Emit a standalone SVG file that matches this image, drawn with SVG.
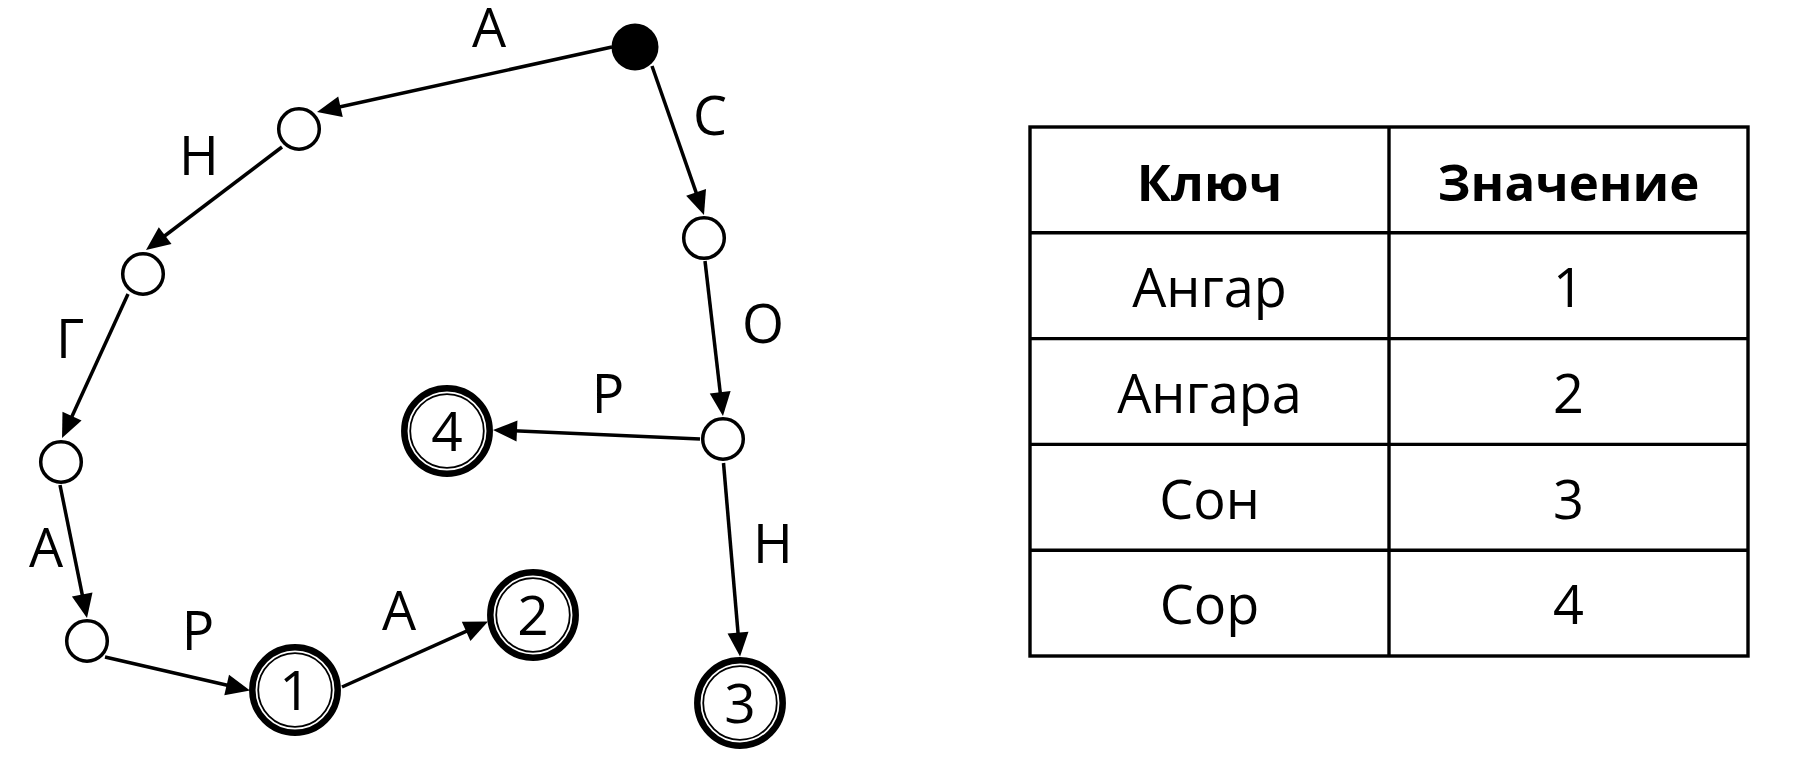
<svg xmlns="http://www.w3.org/2000/svg" width="1796" height="766" viewBox="0 0 1796 766">
<style>
  .edge { stroke:#000; stroke-width:3.5; fill:none; marker-end:url(#arr); }
  .st { fill:#fff; stroke:#000; stroke-width:3.5; }
  .fo { fill:#fff; stroke:#000; stroke-width:6.5; }
  .fi { fill:none; stroke:#000; stroke-width:1.8; }
  .lbl { font-family:"Open Sans","Noto Sans",sans-serif; font-size:54px; text-anchor:middle; fill:#000; }
  .num { font-family:"Open Sans","Noto Sans",sans-serif; font-size:55px; text-anchor:middle; fill:#000; }
  .cell { font-family:"Open Sans","Noto Sans",sans-serif; font-size:54px; text-anchor:middle; fill:#000; }
  .hdr { font-family:"Open Sans","Noto Sans",sans-serif; font-size:51px; font-weight:bold; text-anchor:middle; fill:#000; }
  .grid { stroke:#000; stroke-width:3.4; fill:none; }
</style>
<defs>
  <marker id="arr" markerUnits="userSpaceOnUse" markerWidth="24" markerHeight="21" refX="14" refY="10.5" orient="auto" overflow="visible">
    <path d="M0,0 L24,10.5 L0,21 z" fill="#000"/>
  </marker>
</defs>
<rect width="1796" height="766" fill="#fff"/>

<g id="connectors">
  <line class="edge" x1="612" y1="47" x2="326.8" y2="109.8"/>
  <line class="edge" x1="282" y1="147" x2="154.0" y2="244.0"/>
  <line class="edge" x1="128" y1="294" x2="66.2" y2="428.9"/>
  <line class="edge" x1="60" y1="485" x2="85.0" y2="608.2"/>
  <line class="edge" x1="105" y1="657" x2="240.3" y2="688.2"/>
  <line class="edge" x1="342" y1="687" x2="478.9" y2="625.6"/>
  <line class="edge" x1="652" y1="66" x2="700.7" y2="205.6"/>
  <line class="edge" x1="705" y1="261" x2="721.8" y2="406.1"/>
  <line class="edge" x1="700" y1="439" x2="503.0" y2="430.4"/>
  <line class="edge" x1="723.5" y1="463" x2="739.2" y2="646.5"/>
</g>

<g id="edge-labels">
  <text class="lbl" x="489" y="47">А</text>
  <text class="lbl" x="710" y="135">С</text>
  <text class="lbl" x="199" y="175">Н</text>
  <text class="lbl" x="70" y="358">Г</text>
  <text class="lbl" x="46" y="567">А</text>
  <text class="lbl" x="198" y="650">Р</text>
  <text class="lbl" x="399" y="630">А</text>
  <text class="lbl" x="608" y="413">Р</text>
  <text class="lbl" x="763" y="343">О</text>
  <text class="lbl" x="773" y="563">Н</text>
</g>

<g id="start"><circle cx="635" cy="47" r="23.5" fill="#000"/></g>
<g id="n1"><circle class="st" cx="299" cy="129" r="20.3"/></g>
<g id="n2"><circle class="st" cx="143" cy="274" r="20.3"/></g>
<g id="n3"><circle class="st" cx="61" cy="462" r="20.3"/></g>
<g id="n4"><circle class="st" cx="87" cy="641" r="20.3"/></g>
<g id="c"><circle class="st" cx="704" cy="238" r="20.3"/></g>
<g id="o"><circle class="st" cx="723" cy="439" r="20.3"/></g>

<g id="f1">
  <circle class="fo" cx="295" cy="690" r="42.7"/>
  <circle class="fi" cx="295" cy="690" r="36.8"/>
  <text class="num" x="295" y="710">1</text>
</g>
<g id="f2">
  <circle class="fo" cx="533" cy="615" r="42.7"/>
  <circle class="fi" cx="533" cy="615" r="36.8"/>
  <text class="num" x="533" y="635">2</text>
</g>
<g id="f3">
  <circle class="fo" cx="740" cy="703" r="42.7"/>
  <circle class="fi" cx="740" cy="703" r="36.8"/>
  <text class="num" x="740" y="723">3</text>
</g>
<g id="f4">
  <circle class="fo" cx="447" cy="431" r="42.7"/>
  <circle class="fi" cx="447" cy="431" r="36.8"/>
  <text class="num" x="447" y="451">4</text>
</g>

<g id="table">
  <rect class="grid" x="1030" y="127" width="718" height="529"/>
  <line class="grid" x1="1389" y1="127" x2="1389" y2="656"/>
  <line class="grid" x1="1030" y1="232.8" x2="1748" y2="232.8"/>
  <line class="grid" x1="1030" y1="338.6" x2="1748" y2="338.6"/>
  <line class="grid" x1="1030" y1="444.4" x2="1748" y2="444.4"/>
  <line class="grid" x1="1030" y1="550.2" x2="1748" y2="550.2"/>
  <text class="hdr" x="1209.5" y="201">Ключ</text>
  <text class="hdr" x="1568.5" y="201">Значение</text>
  <text class="cell" x="1209.5" y="307">Ангар</text>
  <text class="cell" x="1568.5" y="307">1</text>
  <text class="cell" x="1209.5" y="413">Ангара</text>
  <text class="cell" x="1568.5" y="413">2</text>
  <text class="cell" x="1209.5" y="519">Сон</text>
  <text class="cell" x="1568.5" y="519">3</text>
  <text class="cell" x="1209.5" y="624">Сор</text>
  <text class="cell" x="1568.5" y="624">4</text>
</g>
</svg>
